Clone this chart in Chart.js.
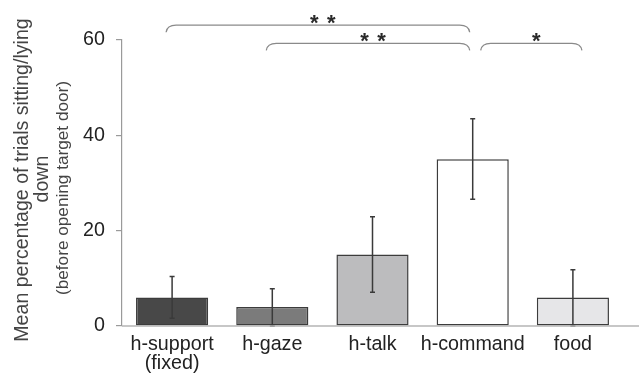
<!DOCTYPE html>
<html>
<head>
<meta charset="utf-8">
<script src="https://cdn.jsdelivr.net/npm/chart.js@4.4.1/dist/chart.umd.min.js"></script>
<style>
  html, body { margin: 0; padding: 0; background: #fff; }
  #wrap { width: 639px; height: 374px; }
</style>
</head>
<body>
<div id="wrap"><canvas id="myChart" width="639" height="374"></canvas></div>
<script>
// categories and values
var categories = [['h-support', '(fixed)'], 'h-gaze', 'h-talk', 'h-command', 'food'];
var means = [6, 4, 15, 35, 6];
var errHigh = [10.4, 7.8, 22.9, 43.5, 11.8];   // top of error bar
var errLow = [1.6, 0, 7.1, 26.6, 0];           // bottom of error bar
var barColors = ['#484848', '#7b7b7b', '#bcbcbe', '#ffffff', '#e6e6e8'];
var yTicks = [0, 20, 40, 60];

// significance brackets (category index from / to, height in data units)
var bracketFrom = [0, 1, 3];
var bracketTo = [3, 3, 4];
var bracketLevel = [63.1, 59.3, 59.3];
var bracketStars = [2, 2, 1];

var titleLines = ['Mean percentage of trials sitting/lying', 'down', '(before opening target door)'];

var FONT = '"Liberation Sans", Arial, sans-serif';

// error bars drawn over the bars
var errorBars = {
    id: 'errorBars',
    afterDatasetsDraw: function(chart) {
        var ctx = chart.ctx;
        var y = chart.scales.y;
        var meta = chart.getDatasetMeta(0);
        ctx.save();
        ctx.strokeStyle = '#3a3a3a';
        ctx.lineWidth = 1.5;
        for (var i = 0; i < means.length; i++) {
            var x = meta.data[i].x;
            var yt = y.getPixelForValue(errHigh[i]);
            var yb = y.getPixelForValue(errLow[i]);
            ctx.beginPath();
            ctx.moveTo(x, yt); ctx.lineTo(x, yb);
            ctx.moveTo(x - 2.5, yt); ctx.lineTo(x + 2.5, yt);
            ctx.moveTo(x - 2.5, yb); ctx.lineTo(x + 2.5, yb);
            ctx.stroke();
        }
        ctx.restore();
    }
};

// baseline, brackets, stars and the y title
var extras = {
    id: 'extras',
    afterDraw: function(chart) {
        var ctx = chart.ctx;
        var y = chart.scales.y;
        var meta = chart.getDatasetMeta(0);
        var area = chart.chartArea;
        ctx.save();

        // x baseline running to the right edge
        var y0 = y.getPixelForValue(0);
        ctx.strokeStyle = '#b4b4b4';
        ctx.lineWidth = 1.5;
        ctx.beginPath();
        ctx.moveTo(area.left, y0);
        ctx.lineTo(chart.width, y0);
        ctx.stroke();

        // brackets
        for (var b = 0; b < bracketFrom.length; b++) {
            var f = bracketFrom[b], t = bracketTo[b];
            var x1 = meta.data[f].x + (bracketTo.indexOf(f) >= 0 ? 8 : -6);
            var x2 = meta.data[t].x + (bracketFrom.indexOf(t) >= 0 ? -3 : 9);
            var yb = y.getPixelForValue(bracketLevel[b]);
            ctx.strokeStyle = '#8a8a8a';
            ctx.lineWidth = 1.3;
            ctx.beginPath();
            ctx.moveTo(x1, yb + 7);
            ctx.quadraticCurveTo(x1 + 1, yb, x1 + 10, yb);
            ctx.lineTo(x2 - 10, yb);
            ctx.quadraticCurveTo(x2 - 1, yb, x2, yb + 7);
            ctx.stroke();

            // stars, 17px apart
            ctx.fillStyle = '#2a2a2a';
            ctx.font = 'bold 22px ' + FONT;
            ctx.textAlign = 'center';
            ctx.textBaseline = 'alphabetic';
            var mid = (x1 + x2) / 2 + 5;
            var n = bracketStars[b];
            for (var s = 0; s < n; s++) {
                ctx.fillText('*', mid + (s - (n - 1) / 2) * 17, yb + 5);
            }
        }

        // y axis title (three lines, rotated)
        ctx.fillStyle = '#444';
        ctx.textAlign = 'center';
        ctx.textBaseline = 'alphabetic';
        var lineX = [28, 48, 68];
        var lineY = [180, 179, 188];
        var lineSize = [19.6, 19.6, 17.2];
        for (var k = 0; k < titleLines.length; k++) {
            ctx.save();
            ctx.font = lineSize[k] + 'px ' + FONT;
            ctx.translate(lineX[k], lineY[k]);
            ctx.rotate(-Math.PI / 2);
            ctx.fillText(titleLines[k], 0, 0);
            ctx.restore();
        }
        ctx.restore();
    }
};

window.addEventListener("DOMContentLoaded", function(event) {
    var ctx = document.getElementById('myChart');
    var myChart = new Chart(ctx, {
        type: 'bar',
        data: {
            labels: categories,
            datasets: [{
                data: means,
                backgroundColor: barColors,
                borderColor: '#3c3c3c',
                borderWidth: 1.5,
                borderSkipped: false,
                barPercentage: 0.72,
                categoryPercentage: 1
            }]
        },
        options: {
            responsive: false,
            animation: false,
            events: [],
            layout: {
                padding: { top: 40, right: 16, left: 0, bottom: 0 }
            },
            plugins: {
                legend: { display: false },
                tooltip: { enabled: false }
            },
            scales: {
                x: {
                    grid: { display: false },
                    border: { display: false },
                    ticks: {
                        color: '#222',
                        padding: 1,
                        maxRotation: 0,
                        autoSkip: false,
                        font: { family: FONT, size: 19.7, lineHeight: 0.95 }
                    },
                    afterFit: function(scale) { scale.height = 48; }
                },
                y: {
                    min: 0,
                    max: 60,
                    afterBuildTicks: function(scale) {
                        scale.ticks = yTicks.map(function(v) { return { value: v }; });
                    },
                    grid: {
                        drawOnChartArea: false,
                        tickLength: 6,
                        color: '#9a9a9a',
                        lineWidth: 1.2
                    },
                    border: { color: '#9a9a9a', width: 1.2 },
                    ticks: {
                        color: '#222',
                        padding: 11,
                        font: { family: FONT, size: 19.7 }
                    },
                    afterFit: function(scale) { scale.width = 122; }
                }
            }
        },
        plugins: [errorBars, extras]
    });
});
</script>
</body>
</html>
